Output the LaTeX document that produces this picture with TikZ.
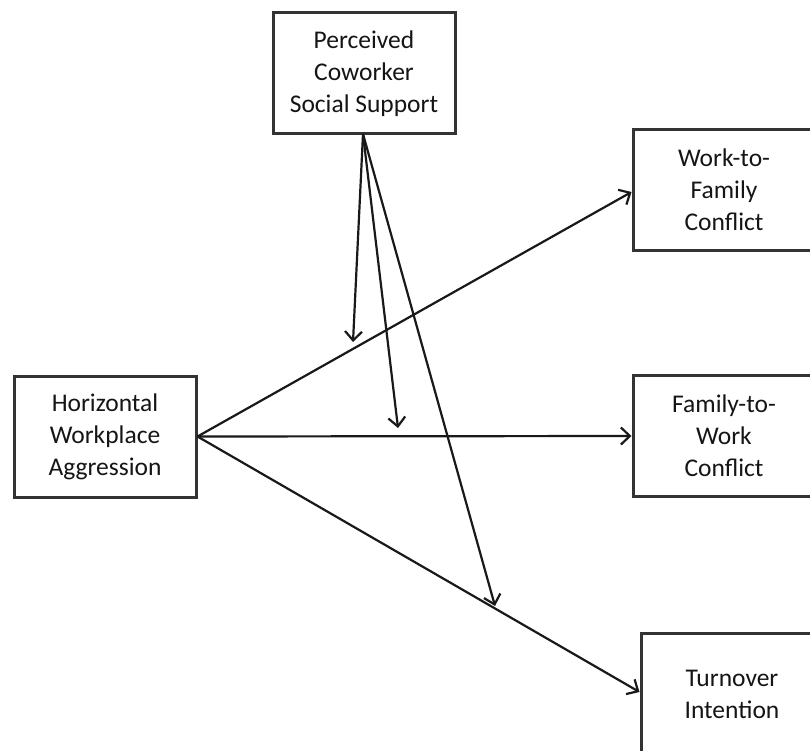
\documentclass[tikz,border=0pt]{standalone}
\usepackage{fontspec}
\setmainfont{Carlito}
\usetikzlibrary{arrows.meta}
\definecolor{boxline}{HTML}{333333}
\definecolor{txt}{HTML}{151515}
\begin{document}
\begin{tikzpicture}[x=1pt,y=-1pt,
  box/.style={draw=boxline, line width=3pt, rectangle, fill=white,
    minimum width=182pt, minimum height=121pt, align=center, inner sep=0pt,
    text=txt, font=\fontsize{25.5}{32}\selectfont},
  conn/.style={line width=2.2pt, black!90,
    -{Straight Barb[length=9pt,width=17pt,line width=2.2pt]}}]
\useasboundingbox (0,0) rectangle (810,751);
\clip (0,0) rectangle (810,751);
\fill[white] (0,0) rectangle (810,751);
\node[box] (pcss) at (364,73.5) {Perceived\\Coworker\\Social Support};
\node[box] (hwa) at (105,436.5) {Horizontal\\Workplace\\Aggression};
\node[box] (wfc) at (724,190) {Work-to-\\Family\\Conflict};
\node[box] (fwc) at (724,436) {Family-to-\\Work\\Conflict};
\node[box] (ti) at (732,694) {Turnover\\Intention};
\coordinate (m1) at (353,342);
\coordinate (m2) at (398,428);
\coordinate (m3) at (495,606);
\coordinate (src) at (363,134);
\draw[conn] (hwa.east) -- (wfc.west |- 0,192);
\draw[conn] (hwa.east) -- (fwc.west);
\draw[conn] (hwa.east) -- (ti.west |- 0,692);
\draw[conn] (src) -- (m1);
\draw[conn] (src) -- (m2);
\draw[conn] (src) -- (m3);
\end{tikzpicture}
\end{document}
